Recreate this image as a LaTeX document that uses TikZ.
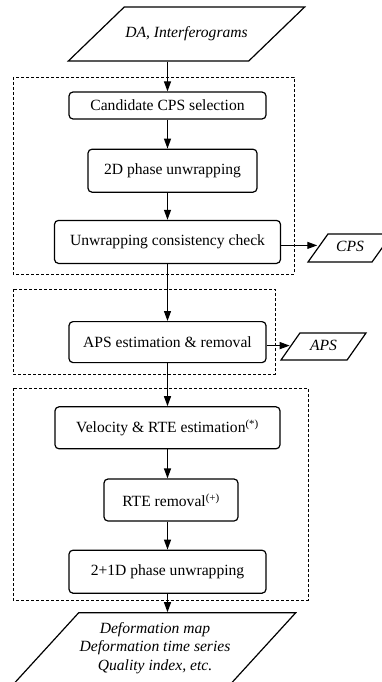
\documentclass[tikz,border=0pt]{standalone}
\usepackage{fontspec}
\setmainfont{Liberation Serif}
\usetikzlibrary{positioning,shapes.geometric,arrows.meta}

\begin{document}
\begin{tikzpicture}[
    x=1pt, y=1pt, % 一个单位即一个像素
    line width=1.2pt, % 统一设置所有线条宽度
    >={Triangle[length=10pt,width=7pt]},
    font=\fontsize{15.6}{18.5}\selectfont,
    proc/.style={
        draw,
        rounded corners=4pt,
        inner sep=2pt,
        align=center
    },
    io/.style={
        draw,
        trapezium,
        trapezium stretches body, % 只横向拉伸，斜边角度不变
        inner xsep=1pt,
        align=center,
        font=\fontsize{15.6}{18.5}\selectfont\itshape
    },
    grp/.style={draw, line width=0.8pt, dash pattern=on 3pt off 2pt}
]
  \useasboundingbox (0,0) rectangle (381,-682);

  % 虚线分组
  \draw[grp] (13,-77) rectangle (294,-274);
  \draw[grp] (13,-289) rectangle (275,-374);
  \draw[grp] (13,-388) rectangle (308,-600);

  % 输入
  \node[io, trapezium left angle=44, trapezium right angle=136,
        text height=10pt, text depth=3pt, inner ysep=20.5pt,
        minimum width=225pt] (in) at (186.5,-34) {DA, Interferograms};

  % 主流程
  \node[proc, minimum width=197pt, minimum height=27pt] (cand) at (167.5,-105.5) {Candidate CPS selection};
  \node[proc, minimum width=169pt, minimum height=43pt, below=29pt of cand, xshift=5pt] (unw2d) {2D phase unwrapping};
  \node[proc, minimum width=226pt, minimum height=43pt, below=27pt of unw2d, xshift=-5pt] (check) {Unwrapping consistency check};
  \node[proc, minimum width=197pt, minimum height=41pt, below=57pt of check] (apsest) {APS estimation \& removal};
  \node[proc, minimum width=225pt, minimum height=42pt, below=43pt of apsest] (vel) {Velocity \& RTE estimation\textsuperscript{(*)}};
  \node[proc, minimum width=134pt, minimum height=42pt, below=29pt of vel, xshift=3.5pt] (rte) {RTE removal\textsuperscript{(+)}};
  \node[proc, minimum width=197pt, minimum height=43pt, below=28pt of rte, xshift=-3.5pt] (unw3d) {2+1D phase unwrapping};

  % 输出
  \node[io, trapezium left angle=54.5, trapezium right angle=125.5,
        text height=10pt, text depth=3pt, inner ysep=7.5pt,
        minimum width=84pt] (cps) at (350,-248) {CPS};
  \node[io, trapezium left angle=55, trapezium right angle=125,
        text height=10pt, text depth=3pt, inner ysep=7pt,
        minimum width=85pt] (aps) at (323.5,-346.5) {APS};
  \node[io, trapezium left angle=47.6, trapezium right angle=132.4,
        inner ysep=9.5pt,
        minimum width=252pt] (out) at (155,-648)
        {Deformation map\\Deformation time series\\Quality index, etc.};

  % 连线
  \draw[->] (cand.north |- in.south) -- (cand);
  \draw[->] (cand) -- (cand |- unw2d.north);
  \draw[->] (cand |- unw2d.south) -- (cand |- check.north);
  \draw[->] (check) -- (check |- apsest.north);
  \draw[->] (apsest) -- (apsest |- vel.north);
  \draw[->] (vel) -- (vel |- rte.north);
  \draw[->] (vel |- rte.south) -- (vel |- unw3d.north);
  \draw[->] (unw3d) -- (unw3d |- out.north);
  \draw[->] ([yshift=-3.5pt]check.east) -- ([yshift=-3.5pt]check.east -| cps.west);
  \draw[->] ([yshift=-3.5pt]apsest.east) -- ([yshift=-3.5pt]apsest.east -| aps.west);
\end{tikzpicture}
\end{document}
